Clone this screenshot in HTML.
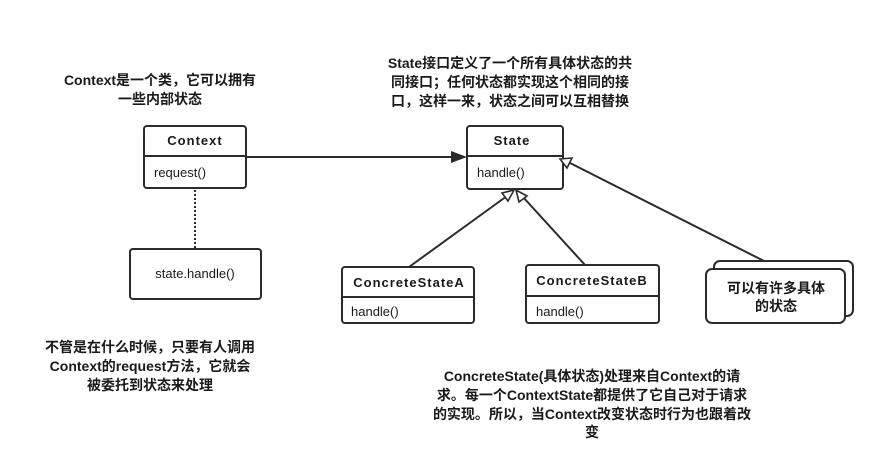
<!DOCTYPE html>
<html><head><meta charset="utf-8"><style>
body{margin:0;background:#fff;width:886px;height:462px;overflow:hidden}
svg text{font-family:"Liberation Sans","Noto Sans CJK SC",sans-serif;fill:#1a1a1a}
.b{font-weight:bold;font-size:14px}
.t{font-weight:bold;font-size:13px;letter-spacing:1px}
.n{font-size:13px}
</style></head><body>
<svg width="886" height="462" viewBox="0 0 886 462" xmlns="http://www.w3.org/2000/svg">
<g fill="#fff" stroke="#2b2b2b" stroke-width="2">
<rect x="144" y="126" width="102" height="62" rx="3"/>
<line x1="144" y1="156" x2="246" y2="156"/>
<rect x="130" y="249" width="131" height="50" rx="3"/>
<rect x="467" y="126" width="96" height="63" rx="3"/>
<line x1="467" y1="156" x2="563" y2="156"/>
<rect x="342" y="267" width="132" height="56" rx="3"/>
<line x1="342" y1="297" x2="474" y2="297"/>
<rect x="526" y="265" width="133" height="58" rx="3"/>
<line x1="526" y1="296" x2="659" y2="296"/>
<rect x="714" y="261" width="139" height="55" rx="6"/>
<rect x="706" y="269" width="139" height="54" rx="6"/>
</g>
<g stroke="#2b2b2b" stroke-width="2" fill="none">
<line x1="195" y1="190" x2="195" y2="248" stroke-dasharray="2,2"/>
<line x1="246" y1="157" x2="452" y2="157"/>
<line x1="409" y1="267" x2="507" y2="196"/>
<line x1="585" y1="265" x2="523" y2="197"/>
<line x1="764" y1="261" x2="570" y2="163"/>
</g>
<polygon points="467,157 451,151 451,163" fill="#2b2b2b"/>
<g fill="#fff" stroke="#2b2b2b" stroke-width="1.6">
<polygon points="514,190 502,193 508,201"/>
<polygon points="516,190 519,202 527,196"/>
<polygon points="560,159 567,168 572,158"/>
</g>
<text class="t" x="195" y="145" text-anchor="middle">Context</text>
<text class="n" x="154" y="177">request()</text>
<text class="n" x="195" y="278" text-anchor="middle">state.handle()</text>
<text class="t" x="512" y="145" text-anchor="middle">State</text>
<text class="n" x="477" y="177">handle()</text>
<text class="t" x="409" y="287" text-anchor="middle">ConcreteStateA</text>
<text class="n" x="351" y="316">handle()</text>
<text class="t" x="592" y="285" text-anchor="middle">ConcreteStateB</text>
<text class="n" x="536" y="316">handle()</text>
<text class="b" x="776" y="293" text-anchor="middle">可以有许多具体</text>
<text class="b" x="776" y="311" text-anchor="middle">的状态</text>
<g class="b" text-anchor="middle">
<text x="160" y="85">Context是一个类，它可以拥有</text>
<text x="160" y="104">一些内部状态</text>
<text x="510" y="68">State接口定义了一个所有具体状态的共</text>
<text x="510" y="87">同接口；任何状态都实现这个相同的接</text>
<text x="510" y="106">口，这样一来，状态之间可以互相替换</text>
<text x="150" y="352">不管是在什么时候，只要有人调用</text>
<text x="150" y="371">Context的request方法，它就会</text>
<text x="150" y="390">被委托到状态来处理</text>
<text x="592" y="381">ConcreteState(具体状态)处理来自Context的请</text>
<text x="592" y="400">求。每一个ContextState都提供了它自己对于请求</text>
<text x="592" y="419">的实现。所以，当Context改变状态时行为也跟着改</text>
<text x="592" y="437">变</text>
</g>
</svg>
</body></html>
